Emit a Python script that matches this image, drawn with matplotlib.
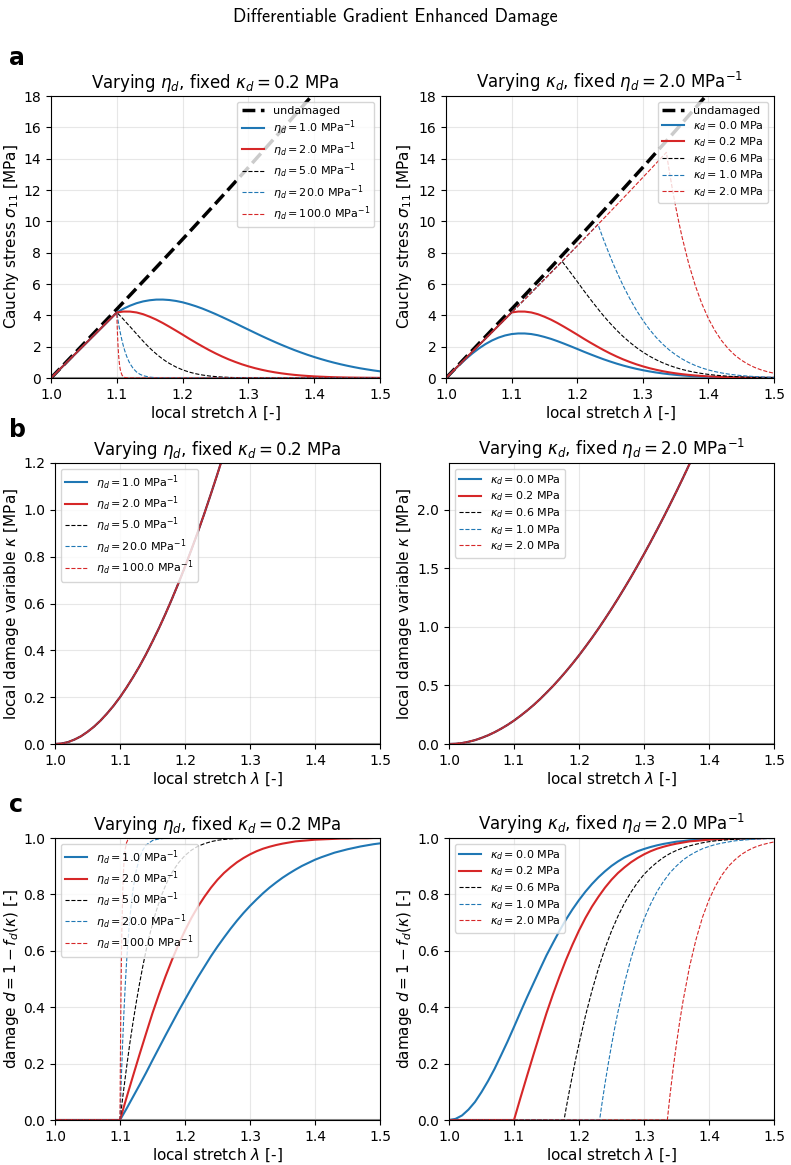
import matplotlib
matplotlib.use("Agg")
import matplotlib.pyplot as plt

# stretch grid used for the smooth curves
lam = [1.00, 1.01, 1.02, 1.03, 1.04, 1.05, 1.06, 1.07, 1.08, 1.09,
       1.10, 1.11, 1.12, 1.13, 1.14, 1.15, 1.16, 1.17, 1.18, 1.19,
       1.20, 1.21, 1.22, 1.23, 1.24, 1.25, 1.26, 1.27, 1.28, 1.29,
       1.30, 1.31, 1.32, 1.33, 1.34, 1.35, 1.36, 1.37, 1.38, 1.39,
       1.40, 1.41, 1.42, 1.43, 1.44, 1.45, 1.46, 1.47, 1.48, 1.49, 1.50]

# local damage variable kappa (same for every curve)
kappa = [0.0, 0.002, 0.008, 0.019, 0.033, 0.052, 0.074, 0.100, 0.130, 0.163,
         0.200, 0.241, 0.285, 0.332, 0.383, 0.438, 0.495, 0.556, 0.620, 0.687,
         0.757, 0.831, 0.907, 0.986, 1.069, 1.154, 1.242, 1.333, 1.426, 1.523,
         1.622, 1.724, 1.829, 1.936, 2.046, 2.158, 2.273, 2.391, 2.511, 2.634,
         2.759, 2.886, 3.016, 3.149, 3.284, 3.421, 3.560, 3.703, 3.846, 3.993, 4.142]

# undamaged reference
lam_undam = [1.00, 1.05, 1.10, 1.15, 1.20, 1.25, 1.30, 1.35, 1.40, 1.45, 1.50]
sig_undam = [0.0, 2.192, 4.393, 6.613, 8.857, 11.133, 13.443, 15.794, 18.187, 20.628, 23.117]

# loading branch before damage onset (1.00 .. 1.33)
sig_pre = [0.0, 0.417, 0.834, 1.251, 1.669, 2.087, 2.505, 2.923, 3.343, 3.762,
           4.183, 4.604, 5.025, 5.448, 5.871, 6.296, 6.721, 7.147, 7.575, 8.003,
           8.433, 8.863, 9.295, 9.728, 10.163, 10.599, 11.036, 11.474, 11.914, 12.356,
           12.799, 13.243, 13.689, 14.137]

# ---- varying eta_d, kappa_d = 0.2 (curves after onset at 1.10) ----
sig_eta1 = [4.183, 4.419, 4.615, 4.774, 4.889, 4.963, 5.004, 5.006, 4.977, 4.918,
            4.832, 4.716, 4.583, 4.433, 4.262, 4.083, 3.892, 3.696, 3.497, 3.290,
            3.087, 2.884, 2.684, 2.491, 2.303, 2.122, 1.949, 1.782, 1.627, 1.478,
            1.340, 1.212, 1.091, 0.980, 0.878, 0.784, 0.698, 0.619, 0.550, 0.484, 0.427]
dmg_eta1 = [0.0, 0.040, 0.082, 0.124, 0.167, 0.212, 0.256, 0.300, 0.343, 0.386,
            0.427, 0.468, 0.507, 0.544, 0.581, 0.615, 0.647, 0.678, 0.707, 0.734,
            0.759, 0.782, 0.804, 0.824, 0.842, 0.859, 0.874, 0.888, 0.901, 0.912,
            0.923, 0.932, 0.940, 0.948, 0.954, 0.960, 0.965, 0.970, 0.974, 0.978, 0.981]

sig_eta2 = [4.183, 4.241, 4.239, 4.184, 4.072, 3.912, 3.725, 3.507, 3.269, 3.022,
            2.769, 2.509, 2.260, 2.020, 1.788, 1.573, 1.373, 1.190, 1.026, 0.876,
            0.745, 0.628, 0.527, 0.438, 0.363, 0.299, 0.245, 0.199, 0.161, 0.130,
            0.104, 0.084, 0.066, 0.051, 0.040, 0.031, 0.024, 0.019, 0.015, 0.011, 0.008]
dmg_eta2 = [0.0, 0.079, 0.156, 0.232, 0.306, 0.379, 0.446, 0.509, 0.568, 0.622,
            0.672, 0.717, 0.757, 0.792, 0.824, 0.852, 0.876, 0.896, 0.914, 0.929,
            0.942, 0.953, 0.962, 0.969, 0.975, 0.980, 0.984, 0.988, 0.990, 0.992,
            0.994, 0.995, 0.996, 0.997, 0.998, 0.998, 0.999, 0.999, 0.999, 1.0, 1.0]

lam_eta5 = [1.100, 1.105, 1.110, 1.115, 1.120, 1.125, 1.130, 1.135, 1.140, 1.145,
            1.150, 1.155, 1.160, 1.165, 1.170, 1.175, 1.180, 1.190, 1.200, 1.21,
            1.22, 1.23, 1.24, 1.25, 1.26, 1.27, 1.28, 1.30, 1.35, 1.50]
sig_eta5 = [4.183, 3.975, 3.750, 3.513, 3.285, 3.051, 2.816, 2.581, 2.351, 2.128,
            1.915, 1.721, 1.538, 1.365, 1.205, 1.058, 0.928, 0.701, 0.520, 0.378,
            0.271, 0.191, 0.132, 0.090, 0.061, 0.040, 0.026, 0.010, 0.001, 0.0]
dmg_eta5 = [0.0, 0.095, 0.185, 0.270, 0.346, 0.417, 0.483, 0.544, 0.600, 0.650,
            0.696, 0.736, 0.771, 0.803, 0.831, 0.856, 0.878, 0.912, 0.938, 0.957,
            0.971, 0.980, 0.987, 0.992, 0.995, 0.997, 0.998, 0.999, 1.0, 1.0]

lam_eta20 = [1.100, 1.102, 1.104, 1.106, 1.108, 1.110, 1.112, 1.115, 1.118, 1.120,
             1.125, 1.130, 1.135, 1.140, 1.150, 1.160, 1.170, 1.180, 1.50]
sig_eta20 = [4.183, 3.648, 3.171, 2.748, 2.373, 2.043, 1.753, 1.386, 1.088, 0.922,
             0.602, 0.385, 0.242, 0.149, 0.054, 0.018, 0.006, 0.0, 0.0]
dmg_eta20 = [0.0, 0.145, 0.271, 0.380, 0.475, 0.556, 0.626, 0.712, 0.780, 0.817,
             0.885, 0.929, 0.957, 0.975, 0.991, 0.997, 0.999, 1.0, 1.0]

lam_eta100 = [1.1000, 1.1005, 1.1010, 1.1015, 1.1020, 1.1030, 1.1040, 1.1050,
              1.1060, 1.1080, 1.1100, 1.1120, 1.1150, 1.1200, 1.50]
sig_eta100 = [4.183, 3.461, 2.860, 2.362, 1.948, 1.323, 0.895, 0.603,
              0.405, 0.180, 0.079, 0.034, 0.010, 0.001, 0.0]
dmg_eta100 = [0.0, 0.177, 0.323, 0.444, 0.543, 0.693, 0.794, 0.863,
              0.909, 0.960, 0.983, 0.993, 0.998, 1.0, 1.0]

# ---- varying kappa_d, eta_d = 2.0 ----
sig_kd00 = [0.0, 0.415, 0.821, 1.204, 1.562, 1.881, 2.160, 2.393, 2.578, 2.715,
            2.804, 2.843, 2.842, 2.805, 2.729, 2.622, 2.498, 2.351, 2.192, 2.026,
            1.855, 1.681, 1.515, 1.354, 1.198, 1.055, 0.920, 0.797, 0.687, 0.587,
            0.499, 0.421, 0.353, 0.294, 0.244, 0.201, 0.164, 0.134, 0.108, 0.088,
            0.069, 0.055, 0.044, 0.034, 0.027, 0.022, 0.016, 0.012, 0.010, 0.008, 0.006]
dmg_kd00 = [0.0, 0.004, 0.016, 0.037, 0.064, 0.099, 0.138, 0.181, 0.229, 0.278,
            0.330, 0.383, 0.435, 0.485, 0.535, 0.584, 0.628, 0.671, 0.711, 0.747,
            0.780, 0.810, 0.837, 0.861, 0.882, 0.901, 0.917, 0.931, 0.942, 0.953,
            0.961, 0.968, 0.974, 0.979, 0.983, 0.987, 0.989, 0.992, 0.993, 0.995,
            0.996, 0.997, 0.998, 0.998, 0.999, 0.999, 0.999, 0.999, 1.0, 1.0, 1.0]

lam_kd06 = [1.177, 1.18, 1.185, 1.19, 1.195, 1.20, 1.21, 1.22, 1.23, 1.24,
            1.25, 1.26, 1.27, 1.28, 1.29, 1.30, 1.31, 1.32, 1.33, 1.34,
            1.35, 1.36, 1.37, 1.38, 1.39, 1.40, 1.41, 1.42, 1.43, 1.44,
            1.45, 1.46, 1.47, 1.48, 1.49, 1.50]
sig_kd06 = [7.447, 7.278, 7.005, 6.725, 6.439, 6.160, 5.584, 5.030, 4.495, 3.978,
            3.500, 3.056, 2.649, 2.284, 1.951, 1.657, 1.398, 1.172, 0.977, 0.810,
            0.666, 0.545, 0.443, 0.359, 0.288, 0.230, 0.183, 0.146, 0.114, 0.090,
            0.069, 0.054, 0.041, 0.032, 0.024, 0.018]
dmg_kd06 = [0.0, 0.039, 0.101, 0.160, 0.217, 0.270, 0.370, 0.459, 0.538, 0.609,
            0.670, 0.723, 0.769, 0.808, 0.842, 0.871, 0.894, 0.914, 0.931, 0.945,
            0.956, 0.965, 0.972, 0.978, 0.983, 0.987, 0.990, 0.992, 0.994, 0.995,
            0.997, 0.997, 0.998, 0.999, 0.999, 0.999]

lam_kd10 = [1.2317, 1.235, 1.24, 1.245, 1.25, 1.255, 1.26, 1.27, 1.28, 1.29,
            1.30, 1.31, 1.32, 1.33, 1.34, 1.35, 1.36, 1.37, 1.38, 1.39,
            1.40, 1.41, 1.42, 1.43, 1.44, 1.45, 1.46, 1.47, 1.48, 1.49, 1.50]
sig_kd10 = [9.802, 9.422, 8.853, 8.314, 7.789, 7.280, 6.801, 5.895, 5.083, 4.341,
            3.689, 3.112, 2.608, 2.174, 1.800, 1.484, 1.214, 0.987, 0.799, 0.642,
            0.514, 0.409, 0.323, 0.254, 0.199, 0.155, 0.121, 0.093, 0.072, 0.054, 0.042]
dmg_kd10 = [0.0, 0.053, 0.129, 0.199, 0.265, 0.327, 0.384, 0.486, 0.573, 0.649,
            0.712, 0.765, 0.810, 0.846, 0.877, 0.901, 0.922, 0.938, 0.951, 0.962,
            0.970, 0.977, 0.982, 0.986, 0.990, 0.992, 0.994, 0.996, 0.997, 0.998, 0.998]

lam_kd20 = [1.3359, 1.34, 1.345, 1.35, 1.355, 1.36, 1.37, 1.38, 1.39, 1.40,
            1.41, 1.42, 1.43, 1.44, 1.45, 1.46, 1.47, 1.48, 1.49, 1.50]
sig_kd20 = [14.401, 13.304, 12.078, 10.963, 9.928, 8.973, 7.294, 5.902, 4.743, 3.795,
            3.022, 2.391, 1.878, 1.470, 1.145, 0.889, 0.683, 0.524, 0.400, 0.304]
dmg_kd20 = [0.0, 0.088, 0.185, 0.271, 0.350, 0.421, 0.543, 0.640, 0.719, 0.781,
            0.830, 0.869, 0.900, 0.923, 0.942, 0.956, 0.967, 0.975, 0.981, 0.986]

eta_labels = [r'$\eta_d = 1.0$ MPa$^{-1}$', r'$\eta_d = 2.0$ MPa$^{-1}$',
              r'$\eta_d = 5.0$ MPa$^{-1}$', r'$\eta_d = 20.0$ MPa$^{-1}$',
              r'$\eta_d = 100.0$ MPa$^{-1}$']
kd_labels = [r'$\kappa_d = 0.0$ MPa', r'$\kappa_d = 0.2$ MPa', r'$\kappa_d = 0.6$ MPa',
             r'$\kappa_d = 1.0$ MPa', r'$\kappa_d = 2.0$ MPa']

styles = [dict(color='tab:blue', ls='-', lw=1.5),
          dict(color='tab:red', ls='-', lw=1.5),
          dict(color='k', ls='--', lw=0.8),
          dict(color='tab:blue', ls='--', lw=0.8),
          dict(color='tab:red', ls='--', lw=0.8)]

lam_tail = lam[10:]

# (x, y) for each curve: stress, damage
eta_sig = [(lam[:10] + lam_tail, sig_pre[:10] + sig_eta1),
           (lam[:10] + lam_tail, sig_pre[:10] + sig_eta2),
           (lam[:10] + lam_eta5, sig_pre[:10] + sig_eta5),
           (lam[:10] + lam_eta20, sig_pre[:10] + sig_eta20),
           (lam[:10] + lam_eta100, sig_pre[:10] + sig_eta100)]
eta_dmg = [([1.0] + lam_tail, [0.0] + dmg_eta1),
           ([1.0] + lam_tail, [0.0] + dmg_eta2),
           ([1.0] + lam_eta5, [0.0] + dmg_eta5),
           ([1.0] + lam_eta20, [0.0] + dmg_eta20),
           ([1.0] + lam_eta100, [0.0] + dmg_eta100)]
kd_sig = [(lam, sig_kd00),
          (lam[:10] + lam_tail, sig_pre[:10] + sig_eta2),
          (lam[:18] + lam_kd06, sig_pre[:18] + sig_kd06),
          (lam[:24] + lam_kd10, sig_pre[:24] + sig_kd10),
          (lam[:34] + lam_kd20, sig_pre[:34] + sig_kd20)]
kd_dmg = [(lam, dmg_kd00),
          ([1.0] + lam_tail, [0.0] + dmg_eta2),
          ([1.0] + lam_kd06, [0.0] + dmg_kd06),
          ([1.0] + lam_kd10, [0.0] + dmg_kd10),
          ([1.0] + lam_kd20, [0.0] + dmg_kd20)]

fig = plt.figure(figsize=(7.91, 11.65), dpi=100)

# axes boxes in figure pixels: (left, right) per row and column, (top, bottom) per row
W, H = 791, 1165
col_px = [[(51, 380), (446, 774)],
          [(55, 380), (449, 774)],
          [(55, 380), (449, 774)]]
row_px = [(96, 378), (463, 744), (838, 1120)]
ylab_right_px = [21, 414]

titles = [r'Varying $\eta_d$, fixed $\kappa_d = 0.2$ MPa',
          r'Varying $\kappa_d$, fixed $\eta_d = 2.0$ MPa$^{-1}$']
ylabels = [r'Cauchy stress $\sigma_{11}$ [MPa]',
           r'local damage variable $\kappa$ [MPa]',
           r'damage $d = 1 - f_d(\kappa)$ [-]']
leg_kw = dict(fontsize=8, labelspacing=0.25)

for c in range(2):
    labels = eta_labels if c == 0 else kd_labels
    sig_curves = eta_sig if c == 0 else kd_sig
    dmg_curves = eta_dmg if c == 0 else kd_dmg
    for r in range(3):
        x0, x1 = col_px[r][c]
        top, bot = row_px[r]
        ax = fig.add_axes([x0 / W, 1 - bot / H, (x1 - x0) / W, (bot - top) / H])
        if r == 0:
            ax.plot(lam_undam, sig_undam, color='k', ls='--', lw=2.5, label='undamaged')
            for (x, y), st, lb in zip(sig_curves, styles, labels):
                ax.plot(x, y, label=lb, **st)
            ax.set_ylim(0, 18)
            ax.set_yticks(range(0, 19, 2))
            ax.legend(loc='upper right', **leg_kw)
        elif r == 1:
            for st, lb in zip(styles, labels):
                ax.plot(lam, kappa, label=lb, **st)
            if c == 0:
                ax.set_ylim(0, 1.2)
                ax.set_yticks([0.0, 0.2, 0.4, 0.6, 0.8, 1.0, 1.2])
            else:
                ax.set_ylim(0, 2.4)
                ax.set_yticks([0.0, 0.5, 1.0, 1.5, 2.0])
            ax.legend(loc='upper left', **leg_kw)
        else:
            for (x, y), st, lb in zip(dmg_curves, styles, labels):
                ax.plot(x, y, label=lb, **st)
            ax.axhline(1.0, color='0.55', lw=1.5, zorder=0.5)
            ax.set_ylim(0, 1.0)
            ax.set_yticks([0.0, 0.2, 0.4, 0.6, 0.8, 1.0])
            ax.legend(loc='upper left', **leg_kw)
        ax.axhline(0.0, color='0.55', lw=1.5, zorder=0.5)
        ax.set_xlim(1.0, 1.5)
        ax.set_xticks([1.0, 1.1, 1.2, 1.3, 1.4, 1.5])
        ax.grid(True, alpha=0.3)
        ax.tick_params(labelsize=10)
        ax.set_title(titles[c], fontsize=12)
        ax.set_xlabel(r'local stretch $\lambda$ [-]', fontsize=11, labelpad=2)
        ax.set_ylabel(ylabels[r], fontsize=11)
        ax.yaxis.set_label_coords((ylab_right_px[c] - x0) / (x1 - x0), 0.5)

for letter, y in zip(['a', 'b', 'c'], [0.944, 0.625, 0.303]):
    fig.text(0.012, y, letter, fontsize=17, fontweight='bold')

fig.suptitle('Differentiable Gradient Enhanced Damage', fontsize=13.2,
             family='cmss10', y=0.993)

fig.savefig('out.png', dpi=100)
